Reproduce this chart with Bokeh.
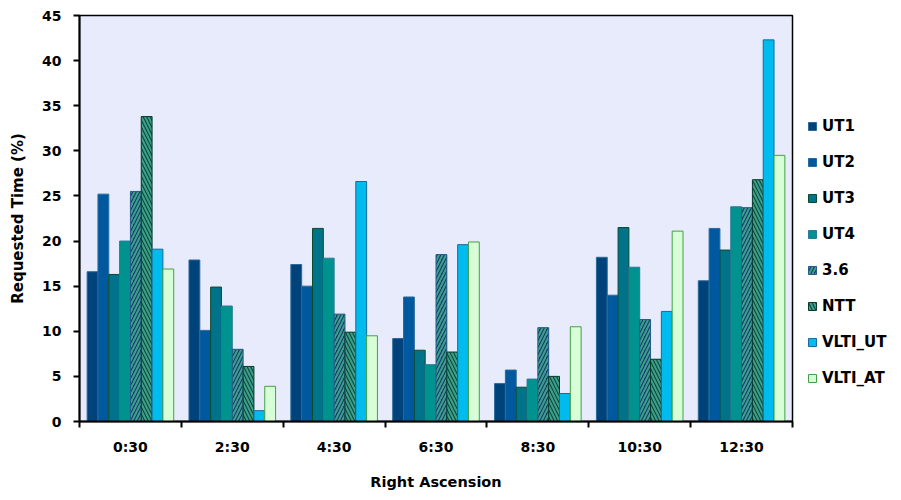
from bokeh.plotting import figure
from bokeh.models import ColumnDataSource, Range1d, FixedTicker, Legend, LegendItem
from bokeh.transform import dodge
from bokeh.embed import file_html
from bokeh.resources import INLINE

categories = ["0:30", "2:30", "4:30", "6:30", "8:30", "10:30", "12:30"]
series = ["UT1", "UT2", "UT3", "UT4", "3.6", "NTT", "VLTI_UT", "VLTI_AT"]
UT1 = [16.6, 17.9, 17.4, 9.2, 4.2, 18.2, 15.6]
UT2 = [25.2, 10.1, 15.0, 13.8, 5.7, 14.0, 21.4]
UT3 = [16.3, 14.9, 21.4, 7.9, 3.8, 21.5, 19.0]
UT4 = [20.0, 12.8, 18.1, 6.3, 4.7, 17.1, 23.8]
T36 = [25.5, 8.0, 11.9, 18.5, 10.4, 11.3, 23.7]
NTT = [33.8, 6.1, 9.9, 7.7, 5.0, 6.9, 26.8]
VLTI_UT = [19.1, 1.2, 26.6, 19.6, 3.1, 12.2, 42.3]
VLTI_AT = [16.9, 3.9, 9.5, 19.9, 10.5, 21.1, 29.5]
y_ticks = [0, 5, 10, 15, 20, 25, 30, 35, 40, 45]

values = [UT1, UT2, UT3, UT4, T36, NTT, VLTI_UT, VLTI_AT]
fills = ["#00427A", "#00589E", "#00728A", "#00928E", "#163C6C", "#0C4838", "#00BBEE", "#D8FED8"]
lines = ["#2A6A9A", "#2A6A9A", "#0B4B2B", "#2A7A9A", "#2A5A8A", "#0B3B2B", "#1A6A9A", "#44A044"]
hatches = [None, None, None, None, "right_diagonal_line", "left_diagonal_line", None, None]

FONT = "DejaVu Sans"

data = {"x": [i + 0.5 for i in range(len(categories))]}
for name, vals in zip(series, values):
    data[name] = vals
src = ColumnDataSource(data)

p = figure(frame_width=713, frame_height=406, x_range=Range1d(0, 7), y_range=Range1d(0, 45),
           output_backend="svg", toolbar_location=None,
           min_border_left=79, min_border_top=15, min_border_bottom=60, min_border_right=0)
p.background_fill_color = "#E8EBFC"
p.border_fill_color = "white"
p.outline_line_color = "black"
p.outline_line_width = 1.5
p.grid.visible = False

n = len(series)
bw = 0.85 / n
items = []
for j, name in enumerate(series):
    off = (j - (n - 1) / 2) * bw
    kw = {}
    if hatches[j]:
        kw = dict(hatch_pattern=hatches[j], hatch_color="#3CA08C", hatch_scale=7, hatch_weight=2)
    r = p.vbar(x=dodge("x", off, range=p.x_range), top=name, width=bw, bottom=0, source=src,
               fill_color=fills[j], line_color=lines[j], line_width=1, **kw)
    items.append(LegendItem(label=name, renderers=[r]))

# axes
xa = p.xaxis[0]
xa.ticker = FixedTicker(ticks=[i + 0.5 for i in range(len(categories))],
                        minor_ticks=list(range(len(categories) + 1)))
xa.major_label_overrides = {i + 0.5: c for i, c in enumerate(categories)}
xa.major_tick_out = 0
xa.major_tick_in = 0
xa.minor_tick_out = 6
xa.minor_tick_in = 0
xa.minor_tick_line_color = "black"
xa.minor_tick_line_width = 2
xa.axis_line_width = 2
xa.major_label_standoff = 11
xa.axis_label = "Right Ascension"
xa.axis_label_standoff = 16
xa.axis_label_text_font_size = "14.5px"

ya = p.yaxis[0]
ya.ticker = FixedTicker(ticks=y_ticks)
ya.minor_tick_line_color = None
ya.major_tick_out = 6
ya.major_tick_in = 0
ya.major_tick_line_width = 2
ya.axis_line_width = 2
ya.major_label_standoff = 12
ya.axis_label = "Requested Time (%)"
ya.axis_label_standoff = 12
ya.axis_label_text_font_size = "15px"

for ax in (xa, ya):
    ax.major_label_text_font = FONT
    ax.major_label_text_font_style = "bold"
    ax.major_label_text_font_size = "14px"
    ax.major_label_text_color = "black"
    ax.axis_label_text_font = FONT
    ax.axis_label_text_font_style = "bold"
    ax.axis_label_text_color = "black"
    ax.axis_line_color = "black"
    ax.major_tick_line_color = "black"

legend = Legend(items=items, location=(15, 34))
legend.border_line_color = None
legend.background_fill_color = "white"
legend.margin = 0
legend.padding = 0
legend.glyph_width = 10
legend.glyph_height = 10
legend.label_height = 18
legend.spacing = 18
legend.label_standoff = 5
legend.label_text_font = FONT
legend.label_text_font_style = "bold"
legend.label_text_font_size = "15px"
legend.label_text_color = "black"
p.add_layout(legend, "right")

open("out.html", "w").write(file_html(p, INLINE))
